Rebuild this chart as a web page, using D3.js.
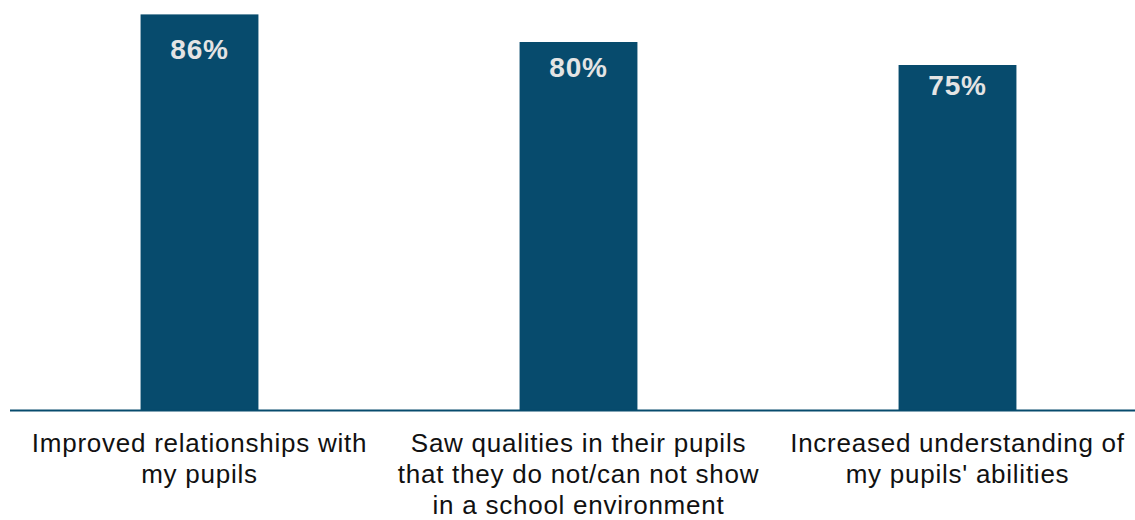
<!DOCTYPE html>
<html>
<head>
<meta charset="utf-8">
<script src="https://cdn.jsdelivr.net/npm/d3@7"></script>
<style>
  body { margin: 0; background: #fff; }
</style>
</head>
<body>
<svg id="plot" width="1135" height="520"></svg>
<script>
// data
let categories = [
  ["Improved relationships with", "my pupils"],
  ["Saw qualities in their pupils", "that they do not/can not show", "in a school environment"],
  ["Increased understanding of", "my pupils' abilities"]
];
let values = [86, 80, 75];
let valueLabels = ["86%", "80%", "75%"];

let svg = d3.select("#plot");

let baseline = 410;
let barColor = "#074b6d";

// x band scale over categories
let x_scale = d3.scaleBand(d3.range(values.length), [10, 1147])
  .paddingInner(0.689)
  .paddingOuter(0.3445);

// y linear scale, 100% would sit above the top edge
let y_scale = d3.scaleLinear([0, 100], [baseline, -50]);

// bars
svg.append("g")
  .selectAll("rect")
  .data(values)
  .join("rect")
  .attr("x", (d, i) => x_scale(i))
  .attr("y", d => y_scale(d))
  .attr("width", x_scale.bandwidth())
  .attr("height", d => baseline - y_scale(d))
  .attr("fill", barColor);

// value labels inside bars (offset from bar top, as placed in the original)
let labelDy = [45, 35, 30];
svg.append("g")
  .selectAll("text")
  .data(values)
  .join("text")
  .attr("x", (d, i) => x_scale(i) + x_scale.bandwidth() / 2)
  .attr("y", (d, i) => y_scale(d) + labelDy[i])
  .attr("text-anchor", "middle")
  .attr("font-family", "Liberation Sans, Arial, sans-serif")
  .attr("font-weight", "bold")
  .attr("font-size", 28)
  .attr("letter-spacing", 0.8)
  .attr("fill", "#e4e4e4")
  .text((d, i) => valueLabels[i]);

// x axis line
svg.append("line")
  .attr("x1", 10)
  .attr("x2", 1135)
  .attr("y1", baseline + 0.5)
  .attr("y2", baseline + 0.5)
  .attr("stroke", barColor)
  .attr("stroke-width", 2);

// category labels
let catText = svg.append("g")
  .selectAll("text")
  .data(categories)
  .join("text")
  .attr("text-anchor", "middle")
  .attr("font-family", "Liberation Sans, Arial, sans-serif")
  .attr("font-size", 26)
  .attr("letter-spacing", 0.75)
  .attr("fill", "#111");

catText.selectAll("tspan")
  .data((d, i) => d.map(t => ({ t, i })))
  .join("tspan")
  .attr("x", d => x_scale(d.i) + x_scale.bandwidth() / 2)
  .attr("y", (d, j) => 452 + j * 31)
  .text(d => d.t);
</script>
</body>
</html>
